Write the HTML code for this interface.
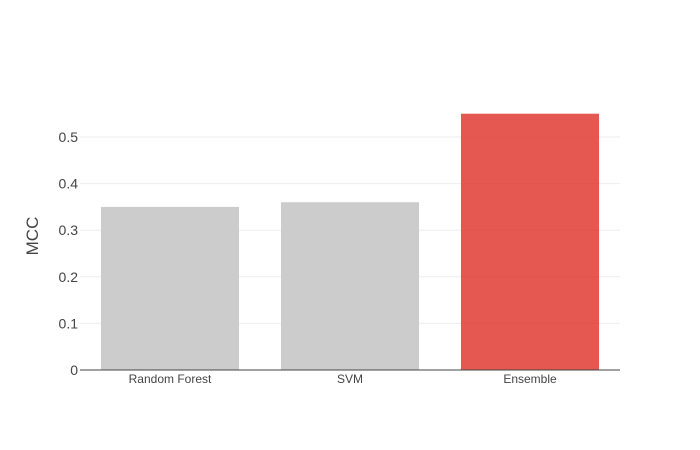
<!DOCTYPE html>
<html><head><meta charset="utf-8"><style>
body{margin:0;background:#fff;}
svg{display:block;font-family:"Liberation Sans",Arial,sans-serif;}
</style></head><body>
<svg id="chart" width="700" height="450">
<g id="grid"></g>
<g id="bars"></g>
<g id="yticks"></g>
<g id="xticks"></g>
<line x1="80" x2="620" y1="370" y2="370" stroke="#444" stroke-width="1"/>
<text x="38" y="236" transform="rotate(-90 38 236)" text-anchor="middle" font-size="17" fill="#444">MCC</text>
</svg>
<script>
const categories = ["Random Forest", "SVM", "Ensemble"];
const values = [0.35, 0.36, 0.55];
const colors = ["#cccccc", "#cccccc", "rgba(222,45,38,0.8)"];
const yTicks = [0, 0.1, 0.2, 0.3, 0.4, 0.5];
const yTickLabels = ["0", "0.1", "0.2", "0.3", "0.4", "0.5"];

const NS = "http://www.w3.org/2000/svg";
const x0 = 80, x1 = 620, yBase = 370, pxPerUnit = 466;
const band = (x1 - x0) / categories.length;
const barW = band * 0.767;
function yScale(v){ return yBase - v * pxPerUnit; }
function xCenter(i){ return x0 + band * (i + 0.5); }
function mk(tag, attrs, parent){ const e = document.createElementNS(NS, tag); for (const k in attrs) e.setAttribute(k, attrs[k]); parent.appendChild(e); return e; }

const grid = document.getElementById("grid"), bars = document.getElementById("bars");
const yt = document.getElementById("yticks"), xt = document.getElementById("xticks");
yTicks.forEach((t, i) => {
  if (t > 0) {
    const l = mk("line", {x1: x0, x2: x1, y1: yScale(t), y2: yScale(t), stroke: "#eee", "stroke-width": 1}, grid);
    
    
  }
  const tx = mk("text", {x: 78, y: yScale(t) + 5, "text-anchor": "end", "font-size": 14, fill: "#444"}, yt);
  tx.textContent = yTickLabels[i];
  
  
});
categories.forEach((c, i) => {
  const r = mk("rect", {x: xCenter(i) - barW / 2, y: yScale(values[i]), width: barW, height: yBase - yScale(values[i]), fill: colors[i]}, bars);
  
  
  const tx = mk("text", {x: xCenter(i), y: 383, "text-anchor": "middle", "font-size": 12, fill: "#444"}, xt);
  tx.textContent = c;
  
  
});
</script>
</body></html>
